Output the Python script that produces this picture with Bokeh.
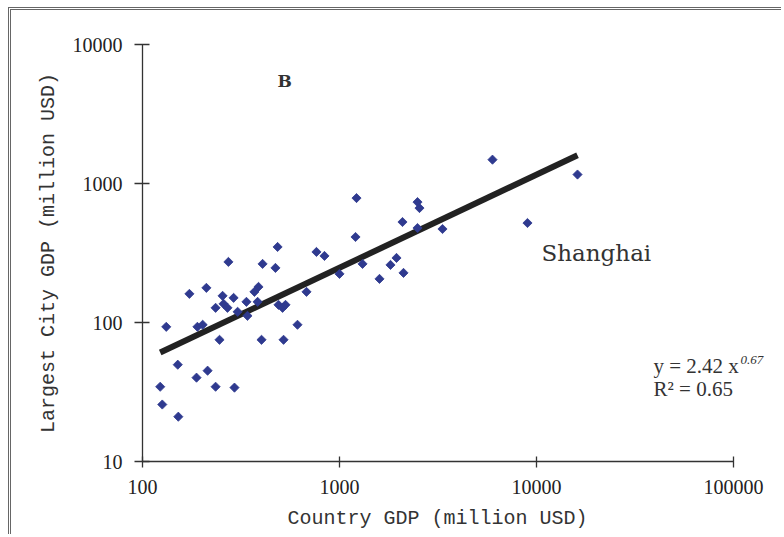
import math
from bokeh.plotting import figure
from bokeh.models import Label, Title, FixedTicker, CustomJSTickFormatter, ColumnDataSource
from bokeh.embed import file_html
from bokeh.resources import INLINE

# ---- data ----
country_gdp = [123, 126, 132, 151, 152, 173, 188, 190, 202, 211, 214, 235, 235, 246,
               255, 258, 270, 273, 290, 293, 304, 337, 341, 370, 388, 384, 402, 407,
               473, 485, 490, 514, 532, 520, 612, 680, 764, 839, 1000, 1206, 1220,
               1309, 1596, 1815, 1947, 2088, 2113, 2489, 2547, 2489, 3333, 5979,
               9000, 16150]
city_gdp = [34.5, 25.7, 93.1, 49.7, 21.0, 160.7, 40.1, 93.1, 96.3, 177.5, 45.0, 127.5,
            34.5, 75.1, 155.5, 136.2, 127.5, 272.8, 150.4, 34.0, 119.4, 140.8, 111.7,
            166.1, 180.4, 140.8, 75.1, 264, 247, 349.5, 134.0, 127.5, 134.0, 75.1,
            96.3, 166.1, 321.8, 301.2, 223.7, 412.3, 785.7, 264, 205.9, 259.6, 291.4,
            528.4, 227.4, 735.3, 665.9, 478.4, 470.7, 1484, 519.8, 1160]
fit_coef = 2.42
fit_exp = 0.67
r_squared = 0.65
x_ticks = [100, 1000, 10000, 100000]
y_ticks = [10, 100, 1000, 10000]
x_title = "Country GDP (million USD)"
y_title = "Largest City GDP (million USD)"

fit_x = [min(country_gdp), max(country_gdp)]
fit_y = [fit_coef * v ** fit_exp for v in fit_x]

# frame: 100..100000 spans 591 px (197 px per decade); extend the frame to the right
# so the equation text is not clipped, while the axis line stops at 100000
canvas_w, canvas_h = 773, 527
left_b, right_b = 131, 5
frame_w = canvas_w - left_b - right_b
x_end = 10 ** (2 + frame_w / 197.0)

p = figure(width=canvas_w, height=canvas_h, x_axis_type="log", y_axis_type="log",
           x_range=(100, x_end), y_range=(10, 10000),
           output_backend="svg", toolbar_location=None,
           min_border_left=left_b, min_border_right=right_b, min_border_top=34,
           min_border_bottom=75)
p.styles = {"margin-left": "8px", "margin-top": "7px",
            "border-top": "3px double #666", "border-left": "3px double #666"}
p.outline_line_color = None
p.xgrid.visible = False
p.ygrid.visible = False
p.background_fill_color = "white"
p.border_fill_color = "white"

p.line(fit_x, fit_y, line_color="#222222", line_width=6)
src = ColumnDataSource(dict(x=country_gdp, y=city_gdp))
p.scatter("x", "y", source=src, marker="square", angle=math.pi / 4, size=6.5,
          fill_color="#2f3a8f", line_color="#2f3a8f", line_width=0.8)

fmt = CustomJSTickFormatter(code="return tick.toFixed(0);")
for ax, ticks in ((p.xaxis[0], x_ticks), (p.yaxis[0], y_ticks)):
    ax.ticker = FixedTicker(ticks=ticks, minor_ticks=[])
    ax.formatter = fmt
    ax.axis_line_color = "#333333"
    ax.axis_line_width = 1.3
    ax.major_tick_line_color = "#333333"
    ax.major_tick_line_width = 1.3
    ax.minor_tick_line_color = None
    ax.major_label_text_font = "Liberation Serif"
    ax.major_label_text_font_size = "20px"
    ax.major_label_text_color = "#222222"
    ax.axis_label_text_font = "Liberation Mono"
    ax.axis_label_text_font_size = "20px"
    ax.axis_label_text_font_style = "normal"
    ax.axis_label_text_color = "#333333"

p.xaxis[0].bounds = (x_ticks[0], x_ticks[-1])
p.xaxis[0].major_tick_in = 5
p.xaxis[0].major_tick_out = 6
p.xaxis[0].major_label_standoff = 12
p.yaxis[0].major_tick_in = 7
p.yaxis[0].major_tick_out = 8
p.yaxis[0].major_label_standoff = 12
p.yaxis[0].axis_label = y_title
p.yaxis[0].axis_label_standoff = 10

# x-axis title, positioned under the 100..100000 span rather than the wider frame
p.add_layout(Title(text=x_title, align="left", offset=145, standoff=16,
                   text_font="Liberation Mono", text_font_size="20px",
                   text_font_style="normal", text_color="#333333"), "below")

lbl = dict(text_color="#333333", text_baseline="alphabetic")
p.add_layout(Label(x=484.6, y=5430, text="B", text_font="DejaVu Serif",
                   text_font_style="bold", text_font_size="17px", **lbl))
p.add_layout(Label(x=10603, y=317, text="Shanghai", text_font="DejaVu Serif",
                   text_font_size="23px", **lbl))
p.add_layout(Label(x=39270, y=49, text=f"y = {fit_coef} x", text_font="Liberation Serif",
                   text_font_size="21px", **lbl))
p.add_layout(Label(x=39270, y=49, x_offset=87, y_offset=6, text=f"{fit_exp}",
                   text_font="Liberation Serif", text_font_style="italic",
                   text_font_size="13px", **lbl))
p.add_layout(Label(x=39270, y=33, text=f"R\u00b2 = {r_squared}", text_font="Liberation Serif",
                   text_font_size="21px", **lbl))

open("out.html", "w").write(file_html(p, INLINE))
